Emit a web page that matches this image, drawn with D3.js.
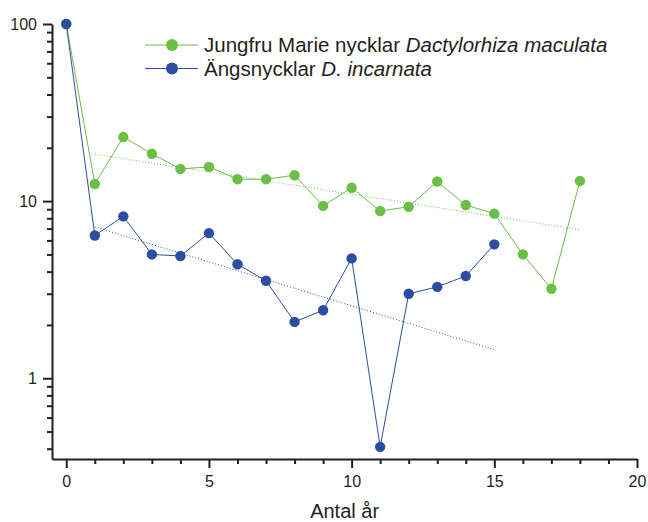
<!DOCTYPE html>
<html>
<head>
<meta charset="utf-8">
<style>
  body { margin: 0; background: #fff; }
  svg text { font-family: "Liberation Sans", Arial, sans-serif; fill: #231f20; }
  .axis path, .axis line { stroke: #231f20; stroke-width: 2; }
  .data-line { fill: none; stroke-width: 1; }
  .trend { fill: none; stroke-width: 1; stroke-dasharray: 1,2; }
</style>
</head>
<body>
<script src="https://d3js.org/d3.v7.min.js"></script>
<div class="chart"></div>
<script>
// years and relative numbers (%)
var yearsGreen = [0, 1, 2, 3, 4, 5, 6, 7, 8, 9, 10, 11, 12, 13, 14, 15, 16, 17, 18];
var valuesGreen = [100, 12.5, 23, 18.5, 15.2, 15.6, 13.3, 13.3, 14.0, 9.4, 11.9, 8.8, 9.3, 12.9, 9.5, 8.5, 5.0, 3.2, 13.0];

var yearsBlue = [0, 1, 2, 3, 4, 5, 6, 7, 8, 9, 10, 11, 12, 13, 14, 15];
var valuesBlue = [100, 6.4, 8.2, 5.0, 4.9, 6.6, 4.4, 3.55, 2.08, 2.42, 4.75, 0.41, 3.0, 3.28, 3.78, 5.7];

// exponential trend lines (straight on the log axis), end points
var trendGreenX = [1, 18], trendGreenY = [18.4, 6.9];
var trendBlueX = [1, 15], trendBlueY = [7.16, 1.45];

var xTicks = [0, 5, 10, 15, 20];
var yTicks = [1, 10, 100];

var green = "#6abf45", blue = "#2b4ea2";

var width = 648, height = 522;
var margin = {left: 52, right: 11, top: 24, bottom: 63};

var svg = d3.select(".chart").append("svg")
    .attr("width", width)
    .attr("height", height);

var x = d3.scaleLinear()
    .domain([-0.5, 20])
    .range([margin.left, width - margin.right]);

var y = d3.scaleLog()
    .domain([0.35, 100])
    .range([height - margin.bottom, margin.top]);

// x axis: minor ticks every year, labelled majors every 5
var xMinor = d3.range(0, 21);
var gx = svg.append("g")
    .attr("class", "axis")
    .attr("transform", "translate(0," + (height - margin.bottom) + ")")
    .call(d3.axisBottom(x).tickValues(xMinor).tickSize(5).tickSizeOuter(0).tickFormat(""));
gx.selectAll(".tick line").filter(function(d) { return xTicks.indexOf(d) >= 0; }).attr("y2", 9);
gx.selectAll(".tick").filter(function(d) { return xTicks.indexOf(d) >= 0; })
    .append("text")
    .attr("y", 28)
    .attr("text-anchor", "middle")
    .style("font-size", "16px")
    .text(function(d) { return d; });

// y axis: log minor ticks
var yMinor = [];
[0.1, 1, 10].forEach(function(dec) {
  for (var k = 1; k <= 9; k++) {
    var v = +(dec * k).toPrecision(3);
    if (v >= 0.35 && v <= 100) yMinor.push(v);
  }
});
yMinor.push(100);
var gy = svg.append("g")
    .attr("class", "axis")
    .attr("transform", "translate(" + margin.left + ",0)")
    .call(d3.axisLeft(y).tickValues(yMinor).tickSize(5).tickSizeOuter(0).tickFormat(""));
gy.selectAll(".tick line").filter(function(d) { return yTicks.indexOf(d) >= 0; }).attr("x2", -9);
gy.selectAll(".tick").filter(function(d) { return yTicks.indexOf(d) >= 0; })
    .append("text")
    .attr("x", -15)
    .attr("dy", "0.35em")
    .attr("text-anchor", "end")
    .style("font-size", "16px")
    .text(function(d) { return d; });

svg.append("text")
    .attr("x", x(10) - 7)
    .attr("y", 518)
    .attr("text-anchor", "middle")
    .style("font-size", "20px")
    .text("Antal år");

var line = d3.line()
    .x(function(d) { return x(d[0]); })
    .y(function(d) { return y(d[1]); });

function drawSeries(xs, vs, color) {
  var pts = d3.zip(xs, vs);
  svg.append("path")
      .datum(pts)
      .attr("class", "data-line")
      .attr("stroke", color)
      .attr("d", line);
  svg.selectAll(null)
      .data(pts)
      .enter().append("circle")
      .attr("cx", function(d) { return x(d[0]); })
      .attr("cy", function(d) { return y(d[1]); })
      .attr("r", 5.2)
      .attr("fill", color);
}

svg.append("path")
    .datum(d3.zip(trendGreenX, trendGreenY))
    .attr("class", "trend")
    .attr("stroke", green)
    .attr("d", line);
svg.append("path")
    .datum(d3.zip(trendBlueX, trendBlueY))
    .attr("class", "trend")
    .attr("stroke", blue)
    .attr("d", line);

drawSeries(yearsGreen, valuesGreen, green);
drawSeries(yearsBlue, valuesBlue, blue);

// legend
var legend = [
  {color: green, plain: "Jungfru Marie nycklar ", italic: "Dactylorhiza maculata"},
  {color: blue, plain: "Ängsnycklar ", italic: "D. incarnata"}
];
var lg = svg.append("g").attr("transform", "translate(145,45)");
legend.forEach(function(d, i) {
  var g = lg.append("g").attr("transform", "translate(0," + (i * 23.5) + ")");
  g.append("line").attr("x1", 0).attr("x2", 53).attr("stroke", d.color).attr("stroke-width", 1);
  g.append("circle").attr("cx", 27).attr("r", 6).attr("fill", d.color);
  var t = g.append("text").attr("x", 59).attr("dy", "0.35em").style("font-size", "20.5px");
  t.append("tspan").text(d.plain);
  t.append("tspan").style("font-style", "italic").text(d.italic);
});
</script>
</body>
</html>
